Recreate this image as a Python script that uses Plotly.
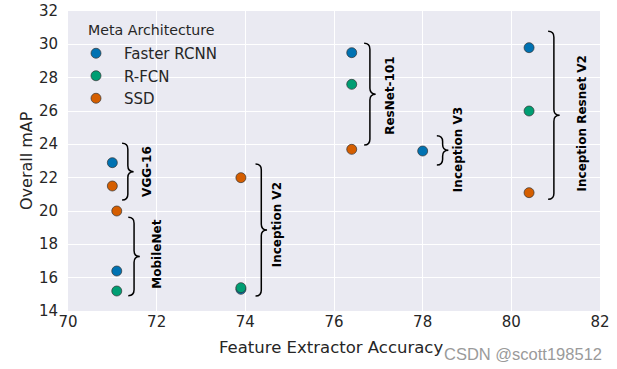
import plotly.graph_objects as go

# ---- data ----
extractors = ["VGG-16", "MobileNet", "Inception V2", "ResNet-101", "Inception V3", "Inception Resnet V2"]
accuracy = [71.0, 71.1, 73.9, 76.4, 78.0, 80.4]
faster_rcnn_map = [22.9, 16.4, 15.3, 29.5, 23.6, 29.8]
rfcn_map = [None, 15.2, 15.4, 27.6, None, 26.0]
ssd_map = [21.5, 20.0, 22.0, 23.7, None, 21.1]

meta_names = ["Faster RCNN", "R-FCN", "SSD"]
meta_values = [faster_rcnn_map, rfcn_map, ssd_map]
meta_colors = ["#0072B2", "#009E73", "#D55E00"]

x_ticks = [70, 72, 74, 76, 78, 80, 82]
y_ticks = [14, 16, 18, 20, 22, 24, 26, 28, 30, 32]

# brace annotation geometry (data units)
brace_left = [71.22, 71.36, 74.23, 76.68, 78.32, 80.83]
brace_top = [24.06, 19.62, 22.82, 30.06, 24.52, 30.78]
brace_bottom = [20.66, 14.92, 14.9, 23.96, 22.76, 20.7]
label_x = [71.78, 72.0, 74.71, 77.26, 78.8, 81.59]
label_y = [22.4, 17.42, 19.19, 26.9, 23.66, 25.24]

fig = go.Figure()
for name, vals, col in zip(meta_names, meta_values, meta_colors):
    fig.add_trace(go.Scatter(
        x=accuracy, y=vals, mode="markers", name=name,
        marker=dict(size=10, color=col, line=dict(width=0.7, color="#333333")),
    ))

W = 0.26
C = 0.35
shapes = []
for x0, yt, yb in zip(brace_left, brace_top, brace_bottom):
    xm = x0 + W / 2
    xt = x0 + W
    ym = (yt + yb) / 2
    path = (f"M {x0},{yt} Q {xm},{yt} {xm},{yt - C} L {xm},{ym + C} "
            f"Q {xm},{ym} {xt},{ym} Q {xm},{ym} {xm},{ym - C} "
            f"L {xm},{yb + C} Q {xm},{yb} {x0},{yb}")
    shapes.append(dict(type="path", path=path, xref="x", yref="y",
                       line=dict(color="black", width=1.5)))

L, R, T, B = 68, 17, 11, 58
PW, PH = 617 - L - R, 369 - T - B


def px(x):
    return (x - L) / PW


def py(y):
    return 1 - (y - T) / PH


annotations = []
for lab, lx, ly in zip(extractors, label_x, label_y):
    annotations.append(dict(x=lx, y=ly, xref="x", yref="y", text=f"<b>{lab}</b>",
                            textangle=-90, showarrow=False,
                            font=dict(family="DejaVu Sans", size=12, color="black")))
for v in y_ticks:
    annotations.append(dict(x=px(60), y=v, xref="paper", yref="y", text=str(v),
                            showarrow=False, xanchor="right", yanchor="middle",
                            font=dict(family="DejaVu Sans", size=15, color="#262626")))
annotations.append(dict(x=px(86), y=py(30), xref="paper", yref="paper", text="Meta Architecture",
                        showarrow=False, xanchor="left", yanchor="middle",
                        font=dict(family="DejaVu Sans", size=14.2, color="#262626")))
annotations.append(dict(x=px(331), y=py(347), xref="paper", yref="paper",
                        text="Feature Extractor Accuracy", showarrow=False,
                        xanchor="center", yanchor="middle",
                        font=dict(family="DejaVu Sans", size=16.5, color="#262626")))
annotations.append(dict(x=px(26), y=py(161), xref="paper", yref="paper",
                        text="Overall mAP", showarrow=False, textangle=-90,
                        xanchor="center", yanchor="middle",
                        font=dict(family="DejaVu Sans", size=16, color="#262626")))
annotations.append(dict(x=px(442), y=py(354), xref="paper", yref="paper",
                        text="CSDN @scott198512", showarrow=False,
                        xanchor="left", yanchor="middle",
                        font=dict(family="Liberation Sans", size=16.5, color="#9a9a9a")))

fig.update_layout(
    width=617, height=369,
    margin=dict(l=L, r=R, t=T, b=B, autoexpand=False),
    paper_bgcolor="white", plot_bgcolor="#EAEAF2",
    font=dict(family="DejaVu Sans", color="#262626"),
    shapes=shapes, annotations=annotations,
    showlegend=True,
    legend=dict(x=px(68), y=py(37), xanchor="left", yanchor="top",
                bgcolor="rgba(0,0,0,0)", itemwidth=46,
                font=dict(family="DejaVu Sans", size=15, color="#262626")),
)
fig.update_xaxes(range=[70, 82], tickvals=x_ticks, ticktext=[str(v) for v in x_ticks],
                 showgrid=True, gridcolor="white", gridwidth=1.3, zeroline=False,
                 showline=False, ticks="", automargin=False,
                 tickfont=dict(size=15, color="#262626"))
fig.update_yaxes(range=[14, 32], tickvals=y_ticks, showticklabels=False,
                 showgrid=True, gridcolor="white", gridwidth=1.3, zeroline=False,
                 showline=False, ticks="", automargin=False)

fig.write_html("out.html", config={"displayModeBar": False},
               post_script="document.body.style.margin='0';document.body.style.overflow='hidden';")
